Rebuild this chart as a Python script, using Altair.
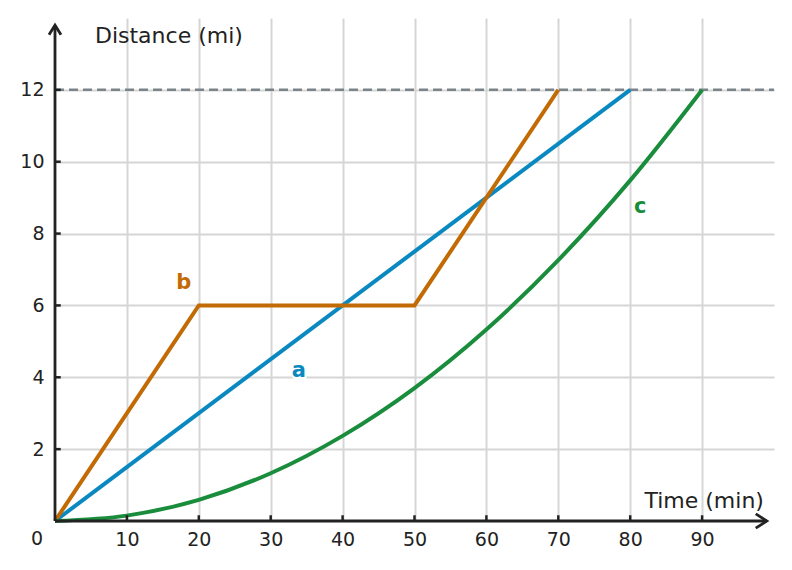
import altair as alt
import pandas as pd

FONT = "DejaVu Sans"
INK = "#222222"

# series
time_a = [0, 80]
dist_a = [0, 12]
time_b = [0, 20, 50, 70]
dist_b = [0, 6, 6, 12]
time_c = [0, 10, 20, 30, 40, 50, 60, 70, 80, 90]
dist_c = [0, 0.15, 0.59, 1.33, 2.37, 3.7, 5.33, 7.26, 9.48, 12]

series_names = ["a", "b", "c"]
series_colors = ["#0a89c0", "#c26a04", "#1a8d3d"]

x_ticks = [10, 20, 30, 40, 50, 60, 70, 80, 90]
y_ticks = [2, 4, 6, 8, 10, 12]

# label anchors (data units)
label_x = [33.9, 17.9, 81.4]
label_y = [4.0, 6.46, 8.57]

limit_distance = 12
x_max, y_max = 100, 14
x_arrow, y_arrow = 99.0, 13.8

lines_ab = pd.DataFrame({
    "time": time_a + time_b,
    "dist": dist_a + dist_b,
    "series": ["a"] * len(time_a) + ["b"] * len(time_b),
})
line_c = pd.DataFrame({"time": time_c, "dist": dist_c, "series": "c"})
labels = pd.DataFrame({"x": label_x, "y": label_y, "series": series_names})

x_scale = alt.Scale(domain=[0, x_max], nice=False, zero=True)
y_scale = alt.Scale(domain=[0, y_max], nice=False, zero=True)
color_scale = alt.Scale(domain=series_names, range=series_colors)

axis_common = dict(
    grid=True, gridColor="#d6d6d6", gridWidth=2, domain=False, ticks=False,
    labelFont=FONT, labelFontSize=19, labelColor=INK, title=None,
)

base = alt.Chart(lines_ab).encode(
    x=alt.X("time:Q").scale(x_scale).axis(values=x_ticks, labelPadding=9, **axis_common),
    y=alt.Y("dist:Q").scale(y_scale).axis(values=y_ticks, labelPadding=11, **axis_common),
)

limit = alt.Chart(pd.DataFrame({"y": [limit_distance], "x0": [0], "x1": [x_max]})).mark_rule(
    color="#7b848a", strokeWidth=2.5, strokeDash=[9, 5]
).encode(x="x0:Q", x2="x1:Q", y="y:Q")

straight = base.mark_line(strokeWidth=4, strokeJoin="miter").encode(
    color=alt.Color("series:N").scale(color_scale).legend(None)
)

curve = alt.Chart(line_c).mark_line(strokeWidth=4, interpolate="monotone").encode(
    x="time:Q", y="dist:Q",
    color=alt.Color("series:N").scale(color_scale).legend(None),
)

halo = alt.Chart(labels).mark_text(
    font=FONT, fontSize=21, fontWeight="bold", baseline="alphabetic",
    stroke="white", strokeWidth=4, fill="white",
).encode(x="x:Q", y="y:Q", text="series:N")

series_labels = alt.Chart(labels).mark_text(
    font=FONT, fontSize=21, fontWeight="bold", baseline="alphabetic"
).encode(
    x="x:Q", y="y:Q", text="series:N",
    color=alt.Color("series:N").scale(color_scale).legend(None),
)

# axis lines with arrow heads and inward ticks
x_axis_line = alt.Chart(pd.DataFrame({"x0": [0], "x1": [x_arrow], "y": [0]})).mark_rule(
    color=INK, strokeWidth=2.8
).encode(x="x0:Q", x2="x1:Q", y="y:Q")
y_axis_line = alt.Chart(pd.DataFrame({"x": [0], "y0": [0], "y1": [y_arrow]})).mark_rule(
    color=INK, strokeWidth=2.8
).encode(x="x:Q", y="y0:Q", y2="y1:Q")

x_tick_marks = alt.Chart(pd.DataFrame({"x": x_ticks})).mark_rule(
    color=INK, strokeWidth=2.5
).encode(x="x:Q", y=alt.datum(0), y2=alt.datum(0.16))
y_tick_marks = alt.Chart(pd.DataFrame({"y": y_ticks})).mark_rule(
    color=INK, strokeWidth=2.5
).encode(y="y:Q", x=alt.datum(0), x2=alt.datum(0.8))

x_head = alt.Chart(pd.DataFrame({"x": [x_arrow], "y": [0]})).mark_point(
    shape="M-1.7,-1.1L0,0L-1.7,1.1", size=169, filled=False, opacity=1,
    color=INK, strokeWidth=2.8, strokeJoin="miter",
).encode(x="x:Q", y="y:Q")
y_head = alt.Chart(pd.DataFrame({"x": [0], "y": [y_arrow]})).mark_point(
    shape="M-1,1.6L0,0L1,1.6", size=144, filled=False, opacity=1,
    color=INK, strokeWidth=2.8, strokeJoin="miter",
).encode(x="x:Q", y="y:Q")

y_title = alt.Chart(pd.DataFrame({"x": [5.56], "y": [13.3], "text": ["Distance (mi)"]})).mark_text(
    font=FONT, fontSize=22, color=INK, baseline="alphabetic", align="left"
).encode(x="x:Q", y="y:Q", text="text:N")
x_title = alt.Chart(pd.DataFrame({"x": [98.6], "y": [0.36], "text": ["Time (min)"]})).mark_text(
    font=FONT, fontSize=22, color=INK, baseline="alphabetic", align="right"
).encode(x="x:Q", y="y:Q", text="text:N")

origin_label = alt.Chart(pd.DataFrame({"x": [0], "y": [0], "text": ["0"]})).mark_text(
    font=FONT, fontSize=19, color=INK, baseline="top", align="center", dx=-18, dy=9
).encode(x="x:Q", y="y:Q", text="text:N")

chart = alt.layer(
    base.mark_line(opacity=0),
    limit, straight, curve, halo, series_labels,
    x_axis_line, y_axis_line, x_tick_marks, y_tick_marks, x_head, y_head,
    y_title, x_title, origin_label,
).properties(
    width=719, height=503,
    autosize=alt.AutoSizeParams(type="none"),
    padding={"left": 47, "top": 10, "right": 10, "bottom": 40},
).configure_view(stroke=None)

chart.save("out.html", embed_options={"renderer": "svg", "actions": False})
